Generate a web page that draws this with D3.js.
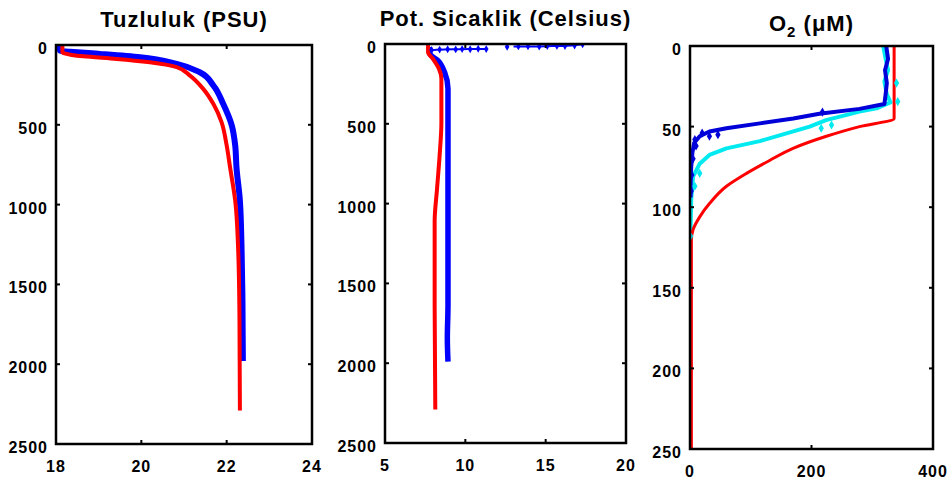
<!DOCTYPE html>
<html>
<head>
<meta charset="utf-8">
<script src="https://cdnjs.cloudflare.com/ajax/libs/d3/7.8.5/d3.min.js"></script>
<style>
  body { margin: 0; background: #fff; }
  text { font-family: "Liberation Sans", Arial, sans-serif; font-weight: bold; fill: #000; }
</style>
</head>
<body>
<div id="chartDiv"></div>
<script>
// --- data: [value, depth] pairs ---
const salRed = [[18.15,0],[18.15,45],[18.2,52],[18.64,71],[19.42,87],[20.2,108],[20.83,139],[21.14,192],
  [21.45,275],[21.69,370],[21.88,483],[22.0,629],[22.08,767],[22.2,975],[22.27,1287],[22.3,1704],[22.31,2290]];
const salBlue = [[18.05,0],[18.08,20],[18.1,38],[18.33,42],[19.03,56],[19.97,77],[20.83,118],[21.37,171],
  [21.69,254],[21.92,370],[22.12,504],[22.2,629],[22.23,767],[22.31,975],[22.35,1287],[22.37,1600],[22.38,1980]];

const tempRed = [[7.68,0],[7.68,52],[7.99,94],[8.36,156],[8.51,219],[8.51,490],[8.4,698],[8.24,906],
  [8.09,1115],[8.09,1636],[8.13,2290]];
const tempBlue = [[7.75,20],[7.8,62],[8.3,104],[8.71,177],[8.92,281],[8.92,594],[8.92,1636],[8.88,1844],[8.92,1990]];
const tempSurfA = [[7.8,40],[8.2,36],[8.7,34],[9.2,33],[9.7,33],[10.2,32],[10.7,32],[11.3,31]];
const tempSurfB = [[13.0,16],[13.5,16],[14.0,15],[14.5,15],[15.0,14],[15.5,13],[16.0,13],[16.6,10],[17.3,2]];
const tempSurfPts = [[7.9,38],[8.4,35],[8.9,33],[9.4,34],[9.8,32],[10.3,33],[10.8,30],[11.3,32],
  [12.6,17],[13.3,15],[13.9,14],[14.6,16],[15.1,13],[15.7,12],[16.2,13],[16.8,10],[17.3,2]];

const oxRed = [[336,0],[336,45],[279,50],[224.5,56],[169.6,63.5],[131,71],[93,79],[60,87],[32.4,97.6],
  [16,106],[5,114],[2.3,120],[2.3,250]];
const oxBlue = [[323,0],[326,8],[321,15],[324,23],[322,30],[320,36],[279,39],[213,42],[170,45],[115,48],
  [60,51],[32,53],[16,56],[7,60],[4,66],[2,75],[1,85],[1,94]];
const oxCyan = [[318,0],[322,8],[326,15],[320,22],[324,30],[330,35],[307,38.7],[279,40.7],[224,46],[197,50],
  [170,53],[115,59],[60,63.5],[32,67.6],[16,73],[5,81],[2,95.5],[1,112],[0,130],[0,160]];
const oxBluePts = [[32,56],[46,55],[218,41],[10,62],[5,70],[3,80],[2,90],[8,58],[20,54]];
const oxCyanPts = [[216,51],[233,49],[16,79],[8,87],[342,34.5],[340,23],[2,100],[1,118]];

const salTicks = [18,20,22,24];
const tempTicks = [5,10,15,20];
const oxTicks = [0,200,400];
const depthTicks = [0,500,1000,1500,2000,2500];
const oxDepthTicks = [0,50,100,150,200,250];

const svg = d3.select('#chartDiv').append('svg').attr('width', 951).attr('height', 483);

const smooth = d3.curveMonotoneY;
const straight = d3.curveLinear;

const panels = [
  { x0: 56, x1: 312, y0: 45, y1: 444, xd: [18,24], yd: [0,2500], xt: salTicks, yt: depthTicks,
    title: 'Tuzluluk (PSU)', ty: 27,
    lines: [{d: salBlue, c: '#0000ff', w: 6, k: smooth}, {d: salRed, c: '#ff0000', w: 4, k: smooth}], pts: [] },
  { x0: 385, x1: 626, y0: 44, y1: 443, xd: [5,20], yd: [0,2500], xt: tempTicks, yt: depthTicks,
    title: 'Pot. Sicaklik (Celsius)', ty: 26,
    lines: [{d: tempSurfA, c: '#0000ff', w: 2, k: straight}, {d: tempSurfB, c: '#0000ff', w: 2, k: straight},
            {d: tempBlue, c: '#0000ff', w: 5.5, k: smooth}, {d: tempRed, c: '#ff0000', w: 4, k: smooth}],
    pts: [{d: tempSurfPts, c: '#0000ff', s: 18}] },
  { x0: 690, x1: 933, y0: 46, y1: 449, xd: [0,400], yd: [0,250], xt: oxTicks, yt: oxDepthTicks,
    title: null, ty: 31,
    lines: [{d: oxCyan, c: '#00eaf0', w: 4, k: straight}, {d: oxBlue, c: '#0000d8', w: 4, k: straight},
            {d: oxRed, c: '#ff0000', w: 3, k: smooth}],
    pts: [{d: oxBluePts, c: '#0000d8', s: 24}, {d: oxCyanPts, c: '#00eaf0', s: 24}] }
];

panels.forEach((p, i) => {
  const x = d3.scaleLinear().domain(p.xd).range([p.x0, p.x1]);
  const y = d3.scaleLinear().domain(p.yd).range([p.y0, p.y1]);
  const g = svg.append('g').attr('class', 'panel' + i);

  const clipId = 'clip' + i;
  g.append('clipPath').attr('id', clipId).append('rect')
    .attr('x', p.x0).attr('y', p.y0).attr('width', p.x1 - p.x0).attr('height', p.y1 - p.y0);

  const plot = g.append('g').attr('clip-path', `url(#${clipId})`);

  p.lines.forEach(l => {
    const line = d3.line().x(d => x(d[0])).y(d => y(d[1])).curve(l.k);
    plot.append('path').attr('d', line(l.d)).attr('fill', 'none')
      .attr('stroke', l.c).attr('stroke-width', l.w).attr('stroke-linejoin', 'round');
  });
  p.pts.forEach(s => {
    plot.selectAll(null).data(s.d).enter().append('path')
      .attr('d', d3.symbol(d3.symbolDiamond, s.s))
      .attr('transform', d => `translate(${x(d[0])},${y(d[1])})`)
      .attr('fill', s.c);
  });

  // ticks on all four sides, pointing inward
  const tl = 4;
  p.xt.forEach(t => {
    g.append('line').attr('x1', x(t)).attr('x2', x(t)).attr('y1', p.y1).attr('y2', p.y1 - tl)
      .attr('stroke', '#000').attr('stroke-width', 2);
    g.append('line').attr('x1', x(t)).attr('x2', x(t)).attr('y1', p.y0).attr('y2', p.y0 + tl)
      .attr('stroke', '#000').attr('stroke-width', 2);
    g.append('text').attr('x', x(t)).attr('y', p.y1 + 28).attr('text-anchor', 'middle')
      .attr('font-size', 16).style('letter-spacing', '1px').text(t);
  });
  p.yt.forEach(t => {
    g.append('line').attr('x1', p.x0).attr('x2', p.x0 + tl).attr('y1', y(t)).attr('y2', y(t))
      .attr('stroke', '#000').attr('stroke-width', 2);
    g.append('line').attr('x1', p.x1).attr('x2', p.x1 - tl).attr('y1', y(t)).attr('y2', y(t))
      .attr('stroke', '#000').attr('stroke-width', 2);
    g.append('text').attr('x', p.x0 - 8).attr('y', y(t) + 9).attr('text-anchor', 'end')
      .attr('font-size', 16).style('letter-spacing', '1px').text(t);
  });

  g.append('rect').attr('x', p.x0).attr('y', p.y0).attr('width', p.x1 - p.x0).attr('height', p.y1 - p.y0)
    .attr('fill', 'none').attr('stroke', '#000').attr('stroke-width', 2.5);

  const title = g.append('text').attr('x', (p.x0 + p.x1) / 2).attr('y', p.ty)
    .attr('text-anchor', 'middle').attr('font-size', 22).style('letter-spacing', '1px');
  if (p.title) {
    title.text(p.title);
  } else {
    title.append('tspan').text('O');
    title.append('tspan').attr('font-size', 15).attr('dy', 6).text('2');
    title.append('tspan').attr('dy', -6).text(' (\u03bcM)');
  }
});
</script>
</body>
</html>
